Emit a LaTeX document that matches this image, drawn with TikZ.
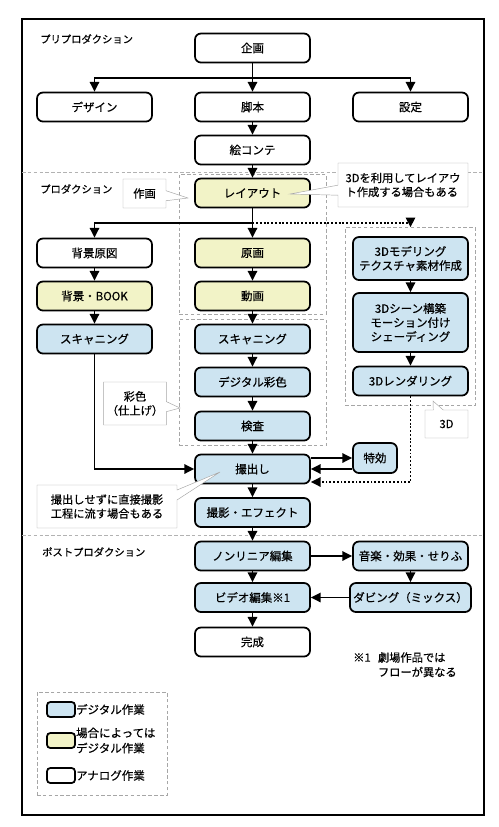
\documentclass[tikz,border=0pt]{standalone}
\usepackage{fontspec}
\setmainfont{Noto Sans CJK JP}[FakeBold=0.5]
\usetikzlibrary{arrows.meta,shapes.callouts,fit}
\definecolor{digblue}{RGB}{205,228,241}
\definecolor{semiyel}{RGB}{242,243,199}
\begin{document}
\begin{tikzpicture}[
  x=0.03cm, y=-0.03cm,
  font=\fontsize{9.8}{12}\selectfont,
  task/.style={draw, line width=1.5pt, rounded corners=1.8mm, fill=white, align=center,
    minimum width=3.45cm, minimum height=0.87cm, inner sep=1mm},
  digi/.style={task, fill=digblue},
  semi/.style={task, fill=semiyel},
  flow/.style={line width=1.5pt, -{Triangle[length=2.9mm, width=2.8mm]}},
  dotflow/.style={flow, dash pattern=on 1.6pt off 1.6pt},
  sec/.style={anchor=west, inner sep=0pt, font=\fontsize{8.8}{10}\selectfont},
  grp/.style={draw=gray!70, densely dashed, thin},
  memo/.style={rectangle callout, draw=gray!70, thin, fill=white, inner sep=1mm,
    callout pointer width=0.3cm, font=\fontsize{9.6}{12}\selectfont},
  swatch/.style={draw, line width=1.5pt, rounded corners=1mm, minimum width=0.84cm, minimum height=0.45cm},
  legtext/.style={anchor=west, inner sep=0pt, align=left, font=\fontsize{9.8}{13}\selectfont}
]
\useasboundingbox (0,0) rectangle (499,827);
\draw[line width=1.5pt] (22,19) rectangle (484,815);
\draw[gray!60, densely dashed, thin] (22,172) -- (484,172);
\draw[gray!60, densely dashed, thin] (22,535) -- (484,535);

\node[sec] (pre) at (40,39) {プリプロダクション};
\node[sec] (pro) at (40,189) {プロダクション};
\node[sec] (post) at (42,552) {ポストプロダクション};

\node[task] (kikaku) at (252.5,48) {企画};
\node[task] (design) at (94.5,107) {デザイン};
\node[task] (kyakuhon) at (252.5,107) {脚本};
\node[task] (settei) at (410.5,107) {設定};
\node[task] (ekonte) at (252.5,150) {絵コンテ};

\node[semi] (layout) at (252.5,193) {レイアウト};
\node[task] (haikeigen) at (94.5,253) {背景原図};
\node[semi] (genga) at (252.5,253) {原画};
\node[semi] (haikeibook) at (94.5,296) {背景・BOOK};
\node[semi] (douga) at (252.5,296) {動画};
\node[digi] (scanl) at (94.5,339) {スキャニング};
\node[digi] (scanc) at (252.5,339) {スキャニング};
\node[digi] (saishoku) at (252.5,382) {デジタル彩色};
\node[digi] (kensa) at (252.5,426) {検査};

\node[digi, minimum height=1.29cm] (model) at (410.5,258.5) {3Dモデリング\\テクスチャ素材作成};
\node[digi, minimum height=1.77cm] (scene) at (410.5,322.5) {3Dシーン構築\\モーション付け\\シェーディング};
\node[digi] (render) at (410.5,381) {3Dレンダリング};

\node[digi] (toridashi) at (252.5,469) {撮出し};
\node[digi, minimum width=1.32cm, minimum height=0.9cm] (tokko) at (375,458) {特効};
\node[digi] (satsuei) at (252.5,512.5) {撮影・エフェクト};

\node[digi] (nonlinear) at (252.5,556) {ノンリニア編集};
\node[digi] (ongaku) at (410.5,556) {音楽・効果・せりふ};
\node[digi] (video) at (252.5,597.5) {ビデオ編集※1};
\node[digi] (dubbing) at (410.5,597.5) {ダビング（ミックス）};
\node[task] (kansei) at (252.5,642) {完成};

\node[grp, fit=(layout)(douga), inner xsep=0.45cm, inner ysep=0.09cm] (gsakuga) {};
\node[grp, fit=(scanc)(kensa), inner xsep=0.45cm, inner ysep=0.13cm] (gsaishoku) {};
\node[grp, fit=(model)(render), inner xsep=0.2cm, inner ysep=0.26cm] (g3d) {};

\coordinate (fork1) at (252.5,78);
\coordinate (fork2) at (252.5,223);
\draw[flow] (kikaku) -- (kyakuhon);
\draw[flow] (fork1) -| (design);
\draw[flow] (fork1) -| (settei);
\draw[flow] (kyakuhon) -- (ekonte);
\draw[flow] (ekonte) -- (layout);
\draw[flow] (layout) -- (genga);
\draw[flow] (fork2) -| (haikeigen);
\draw[dotflow] (fork2) -| (g3d);
\draw[flow] (haikeigen) -- (haikeibook);
\draw[flow] (haikeibook) -- (scanl);
\draw[flow] (genga) -- (douga);
\draw[flow] (douga) -- (scanc);
\draw[flow] (scanc) -- (saishoku);
\draw[flow] (saishoku) -- (kensa);
\draw[flow] (kensa) -- (toridashi);
\draw[flow] (model) -- (scene);
\draw[flow] (scene) -- (render);
\draw[flow] (scanl) |- (toridashi);
\draw[dotflow] (render) |- ([yshift=-0.39cm]toridashi.east);
\draw[flow] (toridashi.east |- tokko.west) -- (tokko.west);
\draw[flow] (tokko.west |- toridashi.east) -- (toridashi.east);
\draw[flow] (toridashi) -- (satsuei);
\draw[flow] (satsuei) -- (nonlinear);
\draw[flow] (nonlinear) -- (ongaku);
\draw[flow] (ongaku) -- (dubbing);
\draw[flow] (dubbing) -- (video);
\draw[flow] (nonlinear) -- (video);
\draw[flow] (video) -- (kansei);

\node[memo, minimum width=1.29cm, minimum height=0.87cm, callout absolute pointer={(188,198)}] (msakuga) at (144.5,193.5) {作画};
\node[memo, minimum width=3.9cm, minimum height=1.32cm, align=left, callout absolute pointer={(290,194)}] (m3dlayout) at (403,185) {3Dを利用してレイアウ\\ト作成する場合もある};
\node[memo, minimum width=1.5cm, minimum height=1.29cm, align=center, callout absolute pointer={(180,408)}] (msaishoku) at (135,403.5) {彩色\\（仕上げ）};
\node[memo, minimum width=1.29cm, minimum height=0.84cm, callout absolute pointer={(433,401)}] (m3d) at (446.5,424) {3D};
\node[memo, minimum width=4.2cm, minimum height=1.29cm, align=left, callout absolute pointer={(220,472)}] (mtori) at (107,506.5) {撮出しせずに直接撮影\\工程に流す場合もある};

\node[anchor=north west, inner sep=0pt, align=left, font=\fontsize{9.6}{12.5}\selectfont] (note1) at (353,652)
  {\makebox[2.2em][l]{※1}劇場作品では\\\hspace*{2.2em}フローが異なる};

\node[grp, minimum width=3.9cm, minimum height=3.09cm] (legend) at (102,743.5) {};
\node[swatch, fill=digblue] (sw1) at (61,709.5) {};
\node[swatch, fill=semiyel] (sw2) at (61,740.5) {};
\node[swatch, fill=white] (sw3) at (61,775.5) {};
\node[legtext] (lg1) at (sw1.east) {デジタル作業};
\node[legtext] (lg2) at (sw2.east) {場合によっては\\デジタル作業};
\node[legtext] (lg3) at (sw3.east) {アナログ作業};
\end{tikzpicture}
\end{document}
